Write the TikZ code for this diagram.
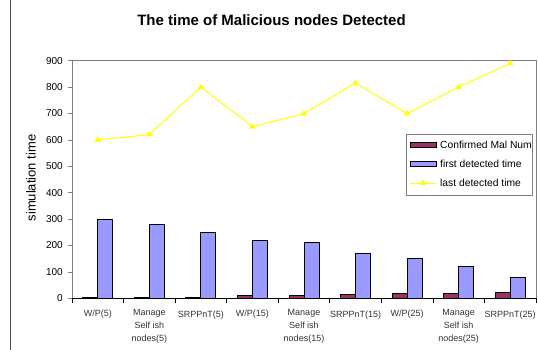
\documentclass[tikz,border=0pt]{standalone}
\usepackage{fontspec}
\setmainfont{Liberation Sans}
\definecolor{malc}{HTML}{993366}
\definecolor{firstc}{HTML}{9999FF}
\definecolor{lastc}{HTML}{FFFF00}
\definecolor{framec}{HTML}{808080}
\tikzset{
  barstyle/.style={draw=black,line width=0.9pt},
  ticklab/.style={anchor=east,font=\fontsize{10}{12}\selectfont,inner sep=0pt},
  catlab/.style={anchor=north,align=center,font=\fontsize{9}{13}\selectfont,text=black!80,inner sep=0pt},
  legtext/.style={anchor=west,font=\fontsize{10.3}{12}\selectfont,inner sep=0pt},
  tri/.style={regular polygon,regular polygon sides=3,fill=lastc,inner sep=0pt,minimum size=7.5pt,draw=none}
}
\usetikzlibrary{shapes.geometric}
\begin{document}
\begin{tikzpicture}[x=1pt,y=-1pt]
\useasboundingbox (0,0) rectangle (538,350);
\fill[white] (0,0) rectangle (538,350);
% outer left border
\draw[black!70,line width=0.8pt] (10.5,0) -- (10.5,350);
% title
\node[font=\bfseries\fontsize{15}{17}\selectfont] (title) at (271.5,20) {The time of Malicious nodes Detected};
% plot frame
\draw[framec,line width=0.8pt] (72,298.3) -- (72,60.7) -- (536,60.7) -- (536,298.3);
% y ticks and labels
\foreach \v in {0,100,...,900}{
  \pgfmathsetmacro\yy{298.3-0.264*\v}
  \draw[framec,line width=0.6pt] (68,\yy) -- (72,\yy);
  \node[ticklab] (yl\v) at (63,\yy) {\v};
}
% y axis label
\node[rotate=90,font=\fontsize{13}{15}\selectfont] (ylab) at (31,178) {simulation time};
% category ticks
\foreach \k in {0,...,9}{
  \pgfmathsetmacro\xx{72+51.55*\k}
  \draw[black,line width=0.6pt] (\xx,298.3) -- (\xx,302.5);
}
% bars
\foreach \i/\c/\f in {0/4/300,1/4/280,2/4/250,3/10/220,4/10/210,5/15/170,6/20/150,7/20/120,8/22/80}{
  \pgfmathsetmacro\cx{97.8+51.55*\i}
  \pgfmathsetmacro\yc{298.3-0.264*\c}
  \pgfmathsetmacro\yf{298.3-0.264*\f}
  \filldraw[barstyle,fill=malc] (\cx-15,298.3) rectangle (\cx,\yc);
  \filldraw[barstyle,fill=firstc] (\cx,298.3) rectangle (\cx+15,\yf);
}
% x axis
\draw[black,line width=0.8pt] (72,298.3) -- (536,298.3);
% line series
\foreach \i/\l in {0/600,1/620,2/800,3/650,4/700,5/815,6/700,7/800,8/890}{
  \pgfmathsetmacro\cx{97.8+51.55*\i}
  \pgfmathsetmacro\yl{298.3-0.264*\l}
  \coordinate (p\i) at (\cx,\yl);
}
\draw[lastc,line width=1pt] (p0) -- (p1) -- (p2) -- (p3) -- (p4) -- (p5) -- (p6) -- (p7) -- (p8);
\foreach \i in {0,...,8}{ \node[tri] (m\i) at (p\i) {}; }
% category labels
\node[catlab] (c0) at (97.8,309.5) {W/P(5)};
\node[catlab] (c1) at (149.35,309.5) {Manage\\Self ish\\nodes(5)};
\node[catlab] (c2) at (200.9,310.5) {SRPPnT(5)};
\node[catlab] (c3) at (252.45,309.5) {W/P(15)};
\node[catlab] (c4) at (304,309.5) {Manage\\Self ish\\nodes(15)};
\node[catlab] (c5) at (355.55,310.5) {SRPPnT(15)};
\node[catlab] (c6) at (407.1,309.5) {W/P(25)};
\node[catlab] (c7) at (458.65,309.5) {Manage\\Self ish\\nodes(25)};
\node[catlab] (c8) at (510.2,310.5) {SRPPnT(25)};
% legend
\filldraw[draw=framec,fill=white,line width=0.8pt] (406.5,134.3) rectangle (532,195.3);
\filldraw[barstyle,fill=malc] (410,142.5) rectangle (436,147.5);
\node[legtext] (lg1) at (440,145) {Confirmed Mal Num};
\filldraw[barstyle,fill=firstc] (410,161.5) rectangle (436,166.5);
\node[legtext] (lg2) at (440,164) {first detected time};
\coordinate (la) at (410,183);
\coordinate (lb) at (436,183);
\draw[lastc,line width=1pt] (la) -- (lb);
\node[tri] (lm) at (423,183) {};
\node[legtext] (lg3) at (440,183) {last detected time};
\end{tikzpicture}
\end{document}
